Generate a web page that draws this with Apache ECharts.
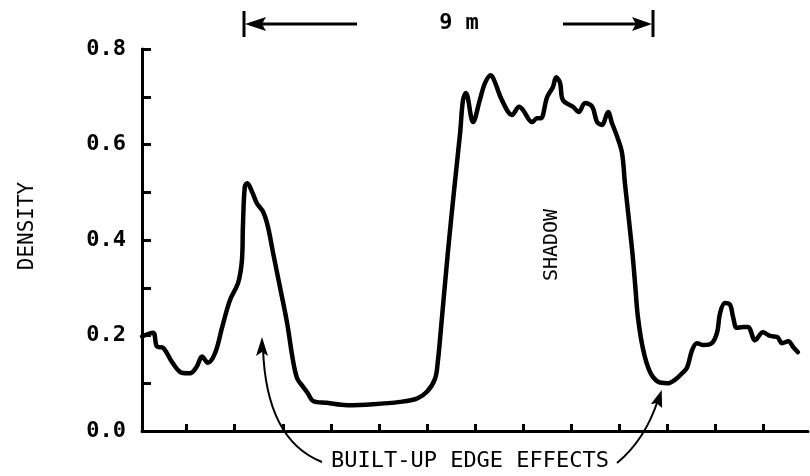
<!DOCTYPE html>
<html>
<head>
<meta charset="utf-8">
<script src="https://cdn.jsdelivr.net/npm/echarts@6/dist/echarts.min.js"></script>
<style>html,body{margin:0;padding:0;background:#fff}#c{width:810px;height:476px}</style>
</head>
<body>
<div id="c"></div>
<script>
// distance along the trace, in units of one x-axis tick spacing (tick 0 = first tick)
const distance = [-0.93,-0.70,-0.62,-0.49,-0.29,-0.10,0.07,0.21,0.32,0.44,0.59,0.74,0.90,1.07,1.15,1.17,1.21,1.26,1.36,1.46,1.59,1.69,1.80,1.94,2.09,2.21,2.30,2.42,2.52,2.63,2.92,3.34,3.88,4.44,4.79,5.00,5.17,5.23,5.27,5.44,5.58,5.69,5.75,5.81,5.96,6.10,6.21,6.33,6.42,6.56,6.77,6.92,7.00,7.19,7.29,7.37,7.50,7.62,7.69,7.77,7.83,8.04,8.16,8.29,8.44,8.54,8.64,8.77,8.85,8.96,9.06,9.12,9.27,9.33,9.39,9.50,9.64,9.81,10.00,10.16,10.31,10.41,10.52,10.62,10.75,10.93,11.04,11.10,11.20,11.31,11.37,11.45,11.58,11.68,11.83,11.99,12.14,12.29,12.39,12.52,12.62,12.72];
const density = [0.198,0.206,0.177,0.174,0.142,0.122,0.121,0.135,0.156,0.143,0.163,0.218,0.274,0.310,0.358,0.428,0.512,0.519,0.501,0.477,0.459,0.428,0.372,0.302,0.226,0.149,0.110,0.093,0.079,0.063,0.059,0.054,0.056,0.061,0.068,0.082,0.110,0.149,0.190,0.379,0.519,0.624,0.693,0.708,0.647,0.693,0.729,0.745,0.729,0.693,0.662,0.679,0.672,0.647,0.655,0.655,0.699,0.720,0.741,0.729,0.693,0.679,0.668,0.687,0.679,0.647,0.641,0.668,0.645,0.616,0.582,0.519,0.379,0.310,0.239,0.170,0.124,0.103,0.100,0.107,0.121,0.132,0.170,0.184,0.180,0.184,0.207,0.247,0.268,0.264,0.239,0.216,0.218,0.218,0.190,0.207,0.199,0.197,0.184,0.188,0.176,0.165];
const xTicks = [0,1,2,3,4,5,6,7,8,9,10,11,12];
const yTickLabels = ['0.0','0.2','0.4','0.6','0.8'];

const FONT = 'DejaVu Sans Mono';
const chart = echarts.init(document.getElementById('c'), null, {renderer:'canvas'});
const data = distance.map((d,i)=>[d, density[i]]);

chart.setOption({
  animation:false,
  backgroundColor:'#fff',
  grid:{left:142, right:2, top:49, bottom:45},
  xAxis:{
    type:'value', min:-0.93, max:12.93,
    axisLine:{show:true, onZero:false, lineStyle:{color:'#000', width:3}},
    axisTick:{show:true, inside:true, length:7, customValues:xTicks, lineStyle:{color:'#000', width:3}},
    axisLabel:{show:false},
    splitLine:{show:false}
  },
  yAxis:{
    type:'value', min:0, max:0.8, interval:0.1,
    axisLine:{show:true, onZero:false, lineStyle:{color:'#000', width:3}},
    axisTick:{show:true, inside:true, length:9, lineStyle:{color:'#000', width:3}},
    axisLabel:{
      margin:16, color:'#000', fontFamily:FONT, fontSize:22, fontWeight:'bold',
      formatter:v=>{const k=Math.round(v*10); return k%2===0 ? yTickLabels[k/2] : '';}
    },
    splitLine:{show:false}
  },
  series:[{
    type:'line', data:data, showSymbol:false, symbol:'none',
    smooth:0.35,
    lineStyle:{color:'#000', width:4.5, cap:'round', join:'round'}
  }]
});

const S = {stroke:'#000', lineWidth:3, fill:null};
const T = (txt,x,y,size,rot,weight)=>({type:'text', x:x, y:y, rotation:rot||0,
  style:{text:txt, fill:'#000', font:(weight||'normal')+' '+size+'px "'+FONT+'"', textAlign:'center', textVerticalAlign:'middle'}});

chart.setOption({graphic:[
  T('DENSITY', 28, 226, 21, Math.PI/2),
  T('SHADOW', 552, 245, 20, Math.PI/2),
  T('9 m', 459, 23, 22, 0, 'bold'),
  T('BUILT-UP EDGE EFFECTS', 470, 461, 22),
  // top dimension arrows
  {type:'line', shape:{x1:244,y1:11,x2:244,y2:37}, style:S},
  {type:'line', shape:{x1:250,y1:24,x2:357,y2:24}, style:S},
  {type:'polygon', shape:{points:[[245,24],[266,17],[262,24],[266,31]]}, style:{fill:'#000'}},
  {type:'line', shape:{x1:653,y1:10,x2:653,y2:37}, style:S},
  {type:'line', shape:{x1:563,y1:24,x2:646,y2:24}, style:S},
  {type:'polygon', shape:{points:[[652,24],[632,17],[636,24],[632,31]]}, style:{fill:'#000'}},
  // curved arrows to edge effects
  {type:'bezierCurve', shape:{x1:322,y1:462,cpx1:266,cpy1:440,x2:263,y2:348}, style:{stroke:'#000', lineWidth:2, fill:null}},
  {type:'polygon', shape:{points:[[262,337],[256,356],[262,352],[268,356]]}, style:{fill:'#000'}},
  {type:'bezierCurve', shape:{x1:617,y1:463,cpx1:645,cpy1:440,x2:658,y2:400}, style:{stroke:'#000', lineWidth:2, fill:null}},
  {type:'polygon', shape:{points:[[661.7,390],[650.7,404.3],[656.4,403],[662.1,408.1]]}, style:{fill:'#000'}}
]});
</script>
</body>
</html>
